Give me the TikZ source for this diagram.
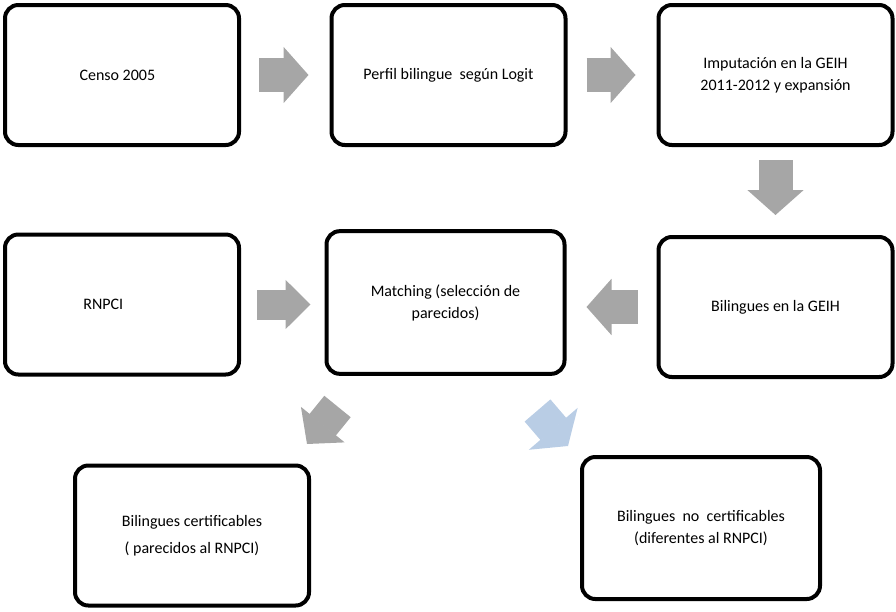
\documentclass[tikz,border=0pt]{standalone}
\usepackage{fontspec}
\setmainfont{Carlito}
\usepackage{xcolor}
\usepackage{tikz}
\usetikzlibrary{arrows.meta, positioning}
\definecolor{flechagris}{HTML}{A6A6A6}
\definecolor{flechaazul}{HTML}{B9CDE5}

\begin{document}
\begin{tikzpicture}[x=0.75pt, y=-0.75pt,
    caja/.style={draw, line width=3pt, rounded corners=10pt, minimum width=175.5pt, minimum height=105pt, align=center, font=\fontsize{12}{16.5}\selectfont},
    flecha/.style={flechagris, line width=25.5pt, -{Triangle[length=18.75pt, width=42pt, line width=1.5pt]}}]
    \useasboundingbox (0,0) rectangle (896,611);

    % fila de arriba
    \node[caja] (censo) at (122,75) {Censo 2005\hspace{7pt}};
    \node[caja] (perfil) at (448.5,75) {Perfil bilingue\ \ según Logit};
    \node[caja] (imput) at (775.5,75) {Imputación en la GEIH\\2011-2012 y expansión};

    % fila del medio
    \node[caja] (rnpci) at (122,304.5) {RNPCI\hspace{28pt}};
    \node[caja, minimum width=178.5pt, minimum height=107pt] (match) at (445.5,302.5) {Matching (selección de\\parecidos)};
    \node[caja] (bilgeih) at (775.5,307) {Bilingues en la GEIH};

    % fila de abajo
    \node[caja] (cert) at (192,535.5) {Bilingues certificables\\[4pt]( parecidos al RNPCI)};
    \node[caja, minimum width=178.5pt, minimum height=106.5pt] (nocert) at (701,528) {Bilingues\ \ no\ \ certificables\\(diferentes al RNPCI)};

    \coordinate (m2c) at (337.5,406.5);
    \coordinate (c2c) at (307,444);
    \coordinate (m2n) at (537.5,410.5);
    \coordinate (n2n) at (568,446);

    \draw[flecha, shorten <=13.5pt, shorten >=15.75pt] (censo.east) -- (perfil.west);
    \draw[flecha, shorten <=14.25pt, shorten >=15.75pt] (perfil.east) -- (imput.west);
    \draw[flecha, shorten <=9.75pt, shorten >=15pt] (imput.south) -- (bilgeih.north);
    \draw[flecha, line width=22.5pt, -{Triangle[length=18.75pt, width=36.75pt, line width=1.5pt]}, shorten <=12pt, shorten >=10.5pt] (rnpci.east) -- (rnpci.east -| match.west);
    \draw[flecha, shorten <=14.25pt, shorten >=15pt] (bilgeih.west) -- (bilgeih.west -| match.east);
    \draw[flecha] (m2c) -- (c2c);
    \draw[flecha, flechaazul, -{Triangle[length=17pt, width=48pt, line width=1.5pt]}] (m2n) -- (n2n);
\end{tikzpicture}
\end{document}
